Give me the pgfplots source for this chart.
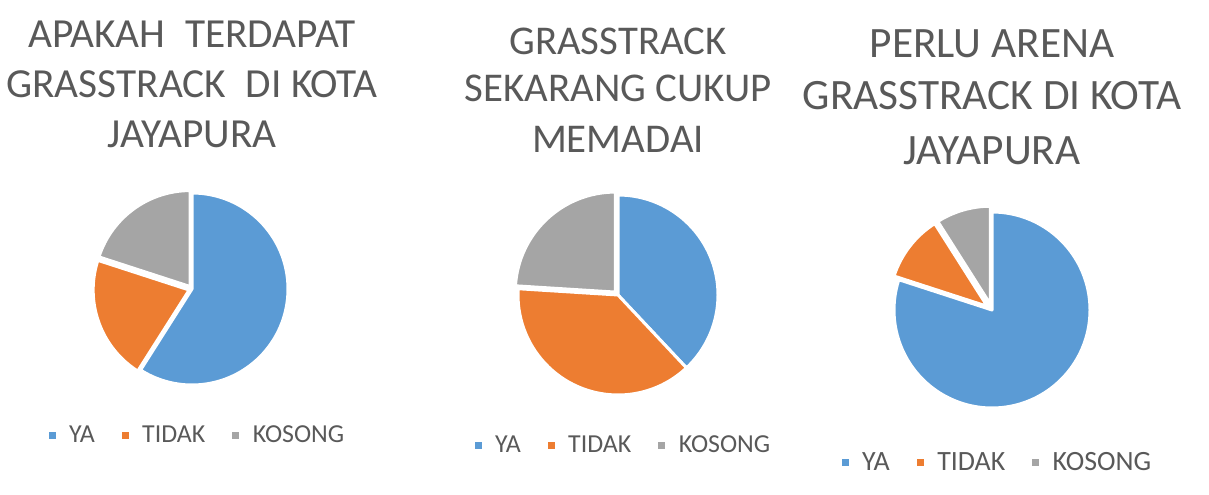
\documentclass[border=0pt]{standalone}
\usepackage{fontspec}
\setmainfont{Carlito}
\usepackage{pgfplots}
\usepackage{pgfplotstable}
\pgfplotsset{compat=1.18}

\definecolor{ya}{HTML}{5B9BD5}
\definecolor{tidak}{HTML}{ED7D31}
\definecolor{kosong}{HTML}{A5A5A5}
\definecolor{txt}{HTML}{595959}

% answers per question; "pisah" = how far a slice is pulled out (bp)
\pgfplotstableread{
jawab  nilai pisah
YA     59    0
TIDAK  21    3
KOSONG 20    3
}\tabA
\pgfplotstableread{
jawab  nilai pisah
YA     38    0
TIDAK  38    0
KOSONG 24    4
}\tabB
\pgfplotstableread{
jawab  nilai pisah
YA     80    0
TIDAK  11    6
KOSONG  9    6
}\tabC

% pie slices, clockwise from 12 o'clock; #1 = table, #2 = radius in bp
\newcommand\drawpie[2]{%
  \def\pietotal{0}%
  \pgfplotsforeachungrouped \i in {0,1,2}{%
    \pgfplotstablegetelem{\i}{nilai}\of#1%
    \pgfmathsetmacro\pietotal{\pietotal+\pgfplotsretval}%
  }%
  \def\piecum{0}%
  \pgfplotsforeachungrouped \i in {0,1,2}{%
    \pgfplotstablegetelem{\i}{nilai}\of#1\let\pieval\pgfplotsretval
    \pgfplotstablegetelem{\i}{pisah}\of#1\let\pieoff\pgfplotsretval
    \pgfmathsetmacro\piea{90-\piecum/\pietotal*360}%
    \pgfmathsetmacro\pieb{90-(\piecum+\pieval)/\pietotal*360}%
    \pgfmathsetmacro\piem{(\piea+\pieb)/2}%
    \pgfmathsetmacro\pieox{\pieoff*cos(\piem)}%
    \pgfmathsetmacro\pieoy{\pieoff*sin(\piem)}%
    \pgfmathsetmacro\piecum{\piecum+\pieval}%
    \ifcase\i \def\piecol{ya}\or \def\piecol{tidak}\or \def\piecol{kosong}\fi
    \edef\pieslice{\noexpand\filldraw[fill=\piecol, draw=white, line width=3bp, line join=round]
      (axis cs:\pieox,\pieoy) -- ++(\piea:#2bp)
      arc[start angle=\piea, end angle=\pieb, radius=#2bp] -- cycle;}%
    \pieslice
  }%
}

\pgfplotsset{
  pieaxis/.style={
    x=1bp, y=1bp, xmin=-120, xmax=120, ymin=-120, ymax=120,
    hide axis, clip=false, anchor=center,
    legend columns=3,
    legend image code/.code={\fill[##1] (0bp,-3bp) rectangle (6bp,3bp);},
    legend style={draw=none, fill=none, anchor=center, text=txt,
      nodes={inner sep=1bp},
      /tikz/every odd column/.append style={column sep=13bp},
      /tikz/every even column/.append style={column sep=26bp}},
  },
}
\tikzset{judul/.style={anchor=base, text=txt, font=\fontsize{#1}{#1}\selectfont}}

\begin{document}
\begin{tikzpicture}
\useasboundingbox (0,0) rectangle (1209bp,495bp);

% --- Apakah terdapat grasstrack di Kota Jayapura
\begin{axis}[pieaxis, at={(192bp,206bp)},
  legend style={at={(axis cs:5,-146)}, font=\fontsize{26}{26}\selectfont}]
  \addlegendimage{ya}\addlegendentry{YA}
  \addlegendimage{tidak}\addlegendentry{TIDAK}
  \addlegendimage{kosong}\addlegendentry{KOSONG}
  \drawpie{\tabA}{96}
  \node[judul=41.5] at (axis cs:0,241) {APAKAH\hspace{0.25em} TERDAPAT};
  \node[judul=41.5] at (axis cs:0,191) {GRASSTRACK\hspace{0.25em} DI KOTA};
  \node[judul=41.5] at (axis cs:0,141) {JAYAPURA};
\end{axis}

% --- Grasstrack sekarang cukup memadai
\begin{axis}[pieaxis, at={(618bp,200bp)},
  legend style={at={(axis cs:5,-150)}, font=\fontsize{26}{26}\selectfont}]
  \addlegendimage{ya}\addlegendentry{YA}
  \addlegendimage{tidak}\addlegendentry{TIDAK}
  \addlegendimage{kosong}\addlegendentry{KOSONG}
  \drawpie{\tabB}{100}
  \node[judul=41] at (axis cs:0,240) {GRASSTRACK};
  \node[judul=41] at (axis cs:0,193) {SEKARANG CUKUP};
  \node[judul=41] at (axis cs:0,142) {MEMADAI};
\end{axis}

% --- Perlu arena grasstrack di Kota Jayapura
\begin{axis}[pieaxis, at={(992bp,185bp)},
  legend style={at={(axis cs:5,-152)}, font=\fontsize{28}{28}\selectfont}]
  \addlegendimage{ya}\addlegendentry{YA}
  \addlegendimage{tidak}\addlegendentry{TIDAK}
  \addlegendimage{kosong}\addlegendentry{KOSONG}
  \drawpie{\tabC}{98}
  \node[judul=43.5] at (axis cs:0,252) {PERLU ARENA};
  \node[judul=43.5] at (axis cs:0,200) {GRASSTRACK DI KOTA};
  \node[judul=43.5] at (axis cs:0,145) {JAYAPURA};
\end{axis}
\end{tikzpicture}
\end{document}
